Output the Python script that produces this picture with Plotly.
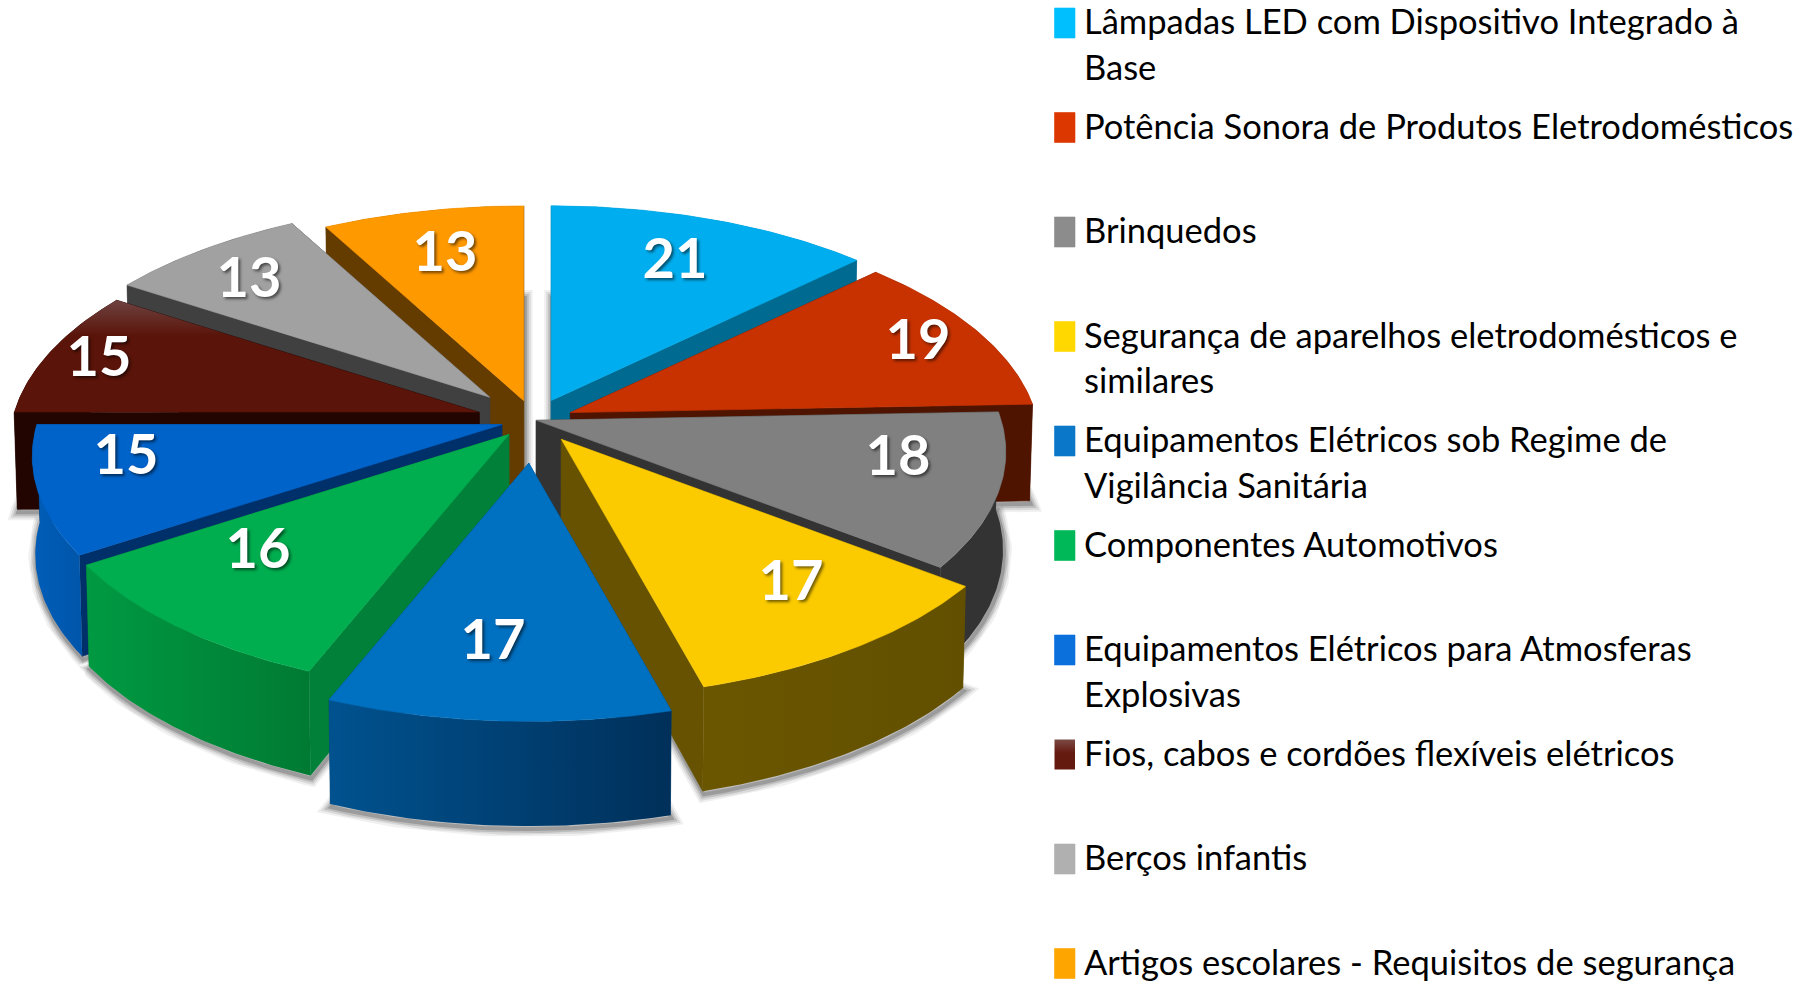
import numpy as np
import plotly.graph_objects as go

# ---------- data ----------
categories = [
    "Lâmpadas LED com Dispositivo Integrado à<br>Base",
    "Potência Sonora de Produtos Eletrodomésticos",
    "Brinquedos",
    "Segurança de aparelhos eletrodomésticos e<br>similares",
    "Equipamentos Elétricos sob Regime de<br>Vigilância Sanitária",
    "Componentes Automotivos",
    "Equipamentos Elétricos para Atmosferas<br>Explosivas",
    "Fios, cabos e cordões flexíveis elétricos",
    "Berços infantis",
    "Artigos escolares - Requisitos de segurança",
]
values = [21, 19, 18, 17, 17, 16, 15, 15, 13, 13]
explode = [0.095, 0.085, 0.005, 0.105, 0.195, 0.085, 0.072, 0.123, 0.14, 0.09]

# ---------- styles ----------
top_colors = ["#00AEEF", "#C83200", "#808080", "#FBCB00", "#0070C0",
              "#00AE4F", "#0063C9", "#5A1409", "#A1A1A1", "#FF9900"]
radial_wall = ["#006A90", "#4F1400", "#333333", "#665200", "#003F70",
               "#008039", "#00306A", "#220500", "#404040", "#653C00"]
outer_wall_a = ["#006A90", "#4F1400", "#333333", "#6B5600", "#00528F",
                "#009A42", "#005DB8", "#220500", "#404040", "#653C00"]
outer_wall_b = ["#006A90", "#4F1400", "#333333", "#625000", "#00305A",
                "#007A33", "#0056AA", "#220500", "#404040", "#653C00"]
swatches = ["#00BFFF", "#DD3700", "#8C8C8C", "#FFD800", "#0A77C8",
            "#00B857", "#0B6FDC", "#5F1D14", "#B0B0B0", "#FFA500"]
label_x = [675, 918, 898, 791, 493, 258, 126, 99, 249, 445]
label_y = [264, 345, 461, 586, 645, 554, 460, 362, 283, 257]

# ---------- projection ----------
CX, CY, A, B, K = 534, 420, 465, 222, 0.14
DEPTH, DEPTH_VAR, CONVERGE = 97, 0.08, 0.006
total = sum(values)
edges = np.cumsum([0] + values) / total * 2 * np.pi


def slice_geometry(i):
    t0, t1 = edges[i], edges[i + 1]
    mid = (t0 + t1) / 2
    px = CX + A * explode[i] * np.sin(mid)
    py = CY - B * explode[i] * np.cos(mid)
    t = np.linspace(t0, t1, 60)
    w = 1 + K * np.cos(t)
    rx = px + A * np.sin(t) / w
    ry = py - B * np.cos(t) / w
    return px, py, rx, ry, t


def drop(x, y, c):
    return x - CONVERGE * (x - CX), y + DEPTH * (1 - DEPTH_VAR * c)


def poly(x, y, color=None, grad=None, gtype="horizontal"):
    x = np.append(x, x[0])
    y = np.append(y, y[0])
    kw = dict(fillcolor=color, line=dict(color=color, width=0.6))
    if grad is not None:
        kw = dict(fillgradient=dict(type=gtype, colorscale=grad),
                  line=dict(width=0))
    return go.Scatter(x=x, y=y, mode="lines", fill="toself",
                      hoverinfo="skip", showlegend=False, **kw)


fig = go.Figure()
geo = [slice_geometry(i) for i in range(len(values))]

# soft shadows, first so that every slice covers them
for i, (px, py, rx, ry, t) in enumerate(geo):
    bx, by = drop(rx, ry, np.cos(t))
    ax, ay = drop(np.array([px]), np.array([py]), np.array([0.0]))
    sx = np.concatenate([ax, bx, ax]) + 1
    sy = np.concatenate([ay, by, ay]) + 3
    for width, alpha in [(16, 0.06), (12, 0.09), (8, 0.13), (4, 0.18)]:
        fig.add_trace(go.Scatter(x=sx, y=sy, mode="lines", hoverinfo="skip",
                                 showlegend=False,
                                 line=dict(color=f"rgba(0,0,0,{alpha})", width=width)))

# painter's order: back to front
mids = [(edges[i] + edges[i + 1]) / 2 for i in range(len(values))]
order = sorted(range(len(values)), key=lambda i: -np.cos(mids[i]))
for i in order:
    px, py, rx, ry, t = geo[i]
    c = np.cos(t)
    bx, by = drop(rx, ry, c)
    ax, ay = drop(px, py, 0.0)
    for j in (0, -1):
        fig.add_trace(poly(np.array([px, rx[j], bx[j], ax]),
                           np.array([py, ry[j], by[j], ay]), radial_wall[i]))
    ca, cb = outer_wall_a[i], outer_wall_b[i]
    fig.add_trace(poly(np.concatenate([rx, bx[::-1]]),
                       np.concatenate([ry, by[::-1]]),
                       grad=[[0, ca], [1, cb]]))
    tx, ty = np.concatenate([[px], rx]), np.concatenate([[py], ry])
    if i == 7:
        fig.add_trace(poly(tx, ty, grad=[[0, "#5A1409"], [0.68, "#5A1409"], [1, "#6E4240"]],
                           gtype="vertical"))
    else:
        fig.add_trace(poly(tx, ty, top_colors[i]))

# value labels
fig.add_trace(go.Scatter(
    x=label_x, y=label_y, text=[str(v) for v in values], mode="text",
    textposition="middle center", hoverinfo="skip", showlegend=False,
    textfont=dict(family="Lato", size=56, color="white", weight=700,
                  shadow="2px 2px 3px rgba(0,0,0,0.55)")))

# legend
LEG_X, LEG_TX, LEG_Y0, LEG_STEP, LINE = 1054.5, 1081.5, 23, 104.5, 45.5
annotations = []
for i, name in enumerate(categories):
    y = LEG_Y0 + LEG_STEP * i
    sx = np.array([LEG_X, LEG_X + 20.5, LEG_X + 20.5, LEG_X])
    sy = np.array([y - 15, y - 15, y + 15, y + 15])
    if i == 7:
        fig.add_trace(poly(sx, sy, grad=[[0, "#651A10"], [0.55, "#651A10"], [1, "#7A4A44"]],
                           gtype="vertical"))
    else:
        fig.add_trace(poly(sx, sy, swatches[i]))
    for n, line in enumerate(name.split("<br>")):
        annotations.append(dict(x=LEG_TX, y=y - 2.5 + n * LINE, text=line, showarrow=False,
                                xanchor="left", yanchor="middle", xref="x", yref="y",
                                font=dict(family="Lato", size=34.5, color="black")))

fig.update_layout(
    width=1797, height=981, autosize=False, showlegend=False,
    margin=dict(l=0, r=0, t=0, b=0),
    paper_bgcolor="white", plot_bgcolor="white",
    xaxis=dict(range=[0, 1797], visible=False, fixedrange=True),
    yaxis=dict(range=[981, 0], visible=False, fixedrange=True),
    annotations=annotations,
)
fig.write_html("out.html", config={"displayModeBar": False},
               post_script="document.body.style.margin='0';document.body.style.overflow='hidden';")
